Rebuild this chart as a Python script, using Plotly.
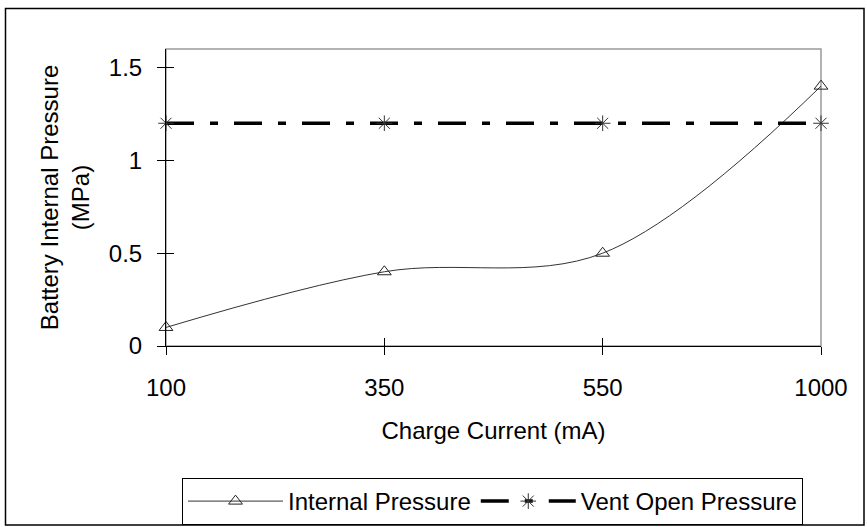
import plotly.graph_objects as go

charge_current = ["100", "350", "550", "1000"]
internal_pressure = [0.1, 0.4, 0.5, 1.4]
vent_open_pressure = [1.2, 1.2, 1.2, 1.2]
y_ticks = [0, 0.5, 1, 1.5]
y_tick_labels = ["0", "0.5", "1", "1.5"]

FONT = "Liberation Sans, Arial, sans-serif"
W, H = 867, 527
ML, MR, MT, MB = 166, 46, 49, 181
PW, PH = W - ML - MR, H - MT - MB


def px_x(p):
    return (p - ML) / PW


def px_y(p):
    return (H - MB - p) / PH


fig = go.Figure()
fig.add_trace(go.Scatter(
    x=charge_current, y=internal_pressure, name="Internal Pressure",
    mode="lines+markers",
    line=dict(color="#333333", width=1, shape="spline", smoothing=1),
    marker=dict(symbol="triangle-up-open", size=12, color="#222222",
                line=dict(width=1, color="#222222")),
    cliponaxis=False,
))
fig.add_trace(go.Scatter(
    x=charge_current, y=vent_open_pressure, name="Vent Open Pressure",
    mode="lines+markers",
    line=dict(color="black", width=3.5, dash="28px,16px,8px,16px"),
    marker=dict(symbol="asterisk-open", size=13, color="#333333",
                line=dict(width=1, color="#333333")),
    cliponaxis=False,
))

fig.update_layout(
    width=W, height=H,
    margin=dict(l=ML, r=MR, t=MT, b=MB, autoexpand=False),
    paper_bgcolor="white", plot_bgcolor="white",
    font=dict(family=FONT, size=24, color="black"),
    showlegend=True,
    legend=dict(orientation="h", x=px_x(492.5), xanchor="center", y=px_y(478), yanchor="top",
                bordercolor="black", borderwidth=1, bgcolor="white",
                font=dict(size=24), itemwidth=95),
    xaxis=dict(type="category", range=[0, 3], showgrid=False, zeroline=False,
               showline=True, linecolor="black", linewidth=1,
               ticks="outside", ticklen=8, tickcolor="black",
               tickfont=dict(size=24), ticklabelstandoff=12,
               title=dict(text="Charge Current (mA)", font=dict(size=24), standoff=22)),
    xaxis2=dict(overlaying="x", range=[0, 3], tickvals=[0, 1, 2, 3], showticklabels=False,
                ticks="inside", ticklen=8, tickcolor="black", showgrid=False,
                zeroline=False, showline=False, side="bottom", anchor="y"),
    yaxis=dict(range=[0, 1.6], tickvals=y_ticks, ticktext=y_tick_labels,
               showgrid=False, zeroline=False, showline=True, linecolor="black",
               linewidth=1, ticks="outside", ticklen=8, tickcolor="black",
               tickfont=dict(size=24), ticklabelstandoff=10,
               title=dict(text="Battery Internal Pressure<br>(MPa)", font=dict(size=24),
                          standoff=12)),
    yaxis2=dict(overlaying="y", range=[0, 1.6], tickvals=y_ticks, showticklabels=False,
                ticks="inside", ticklen=8, tickcolor="black", showgrid=False,
                zeroline=False, showline=False, side="left", anchor="x"),
    shapes=[
        dict(type="rect", xref="paper", yref="paper", x0=0, y0=0, x1=1, y1=1,
             line=dict(color="#9a9a9a", width=1.5), layer="below"),
        dict(type="rect", xref="paper", yref="paper",
             x0=px_x(5.5), x1=px_x(864), y0=px_y(8.5), y1=px_y(525),
             line=dict(color="black", width=1.5), layer="below"),
    ],
)
# invisible helper trace so the overlay tick axes are drawn
fig.add_trace(go.Scatter(x=[0], y=[0], xaxis="x2", yaxis="y2", mode="markers",
                         marker=dict(opacity=0), showlegend=False, hoverinfo="skip"))

fig.write_html("out.html", config={"displayModeBar": False, "staticPlot": True},
               post_script="document.body.style.margin='0';document.body.style.overflow='hidden';")
